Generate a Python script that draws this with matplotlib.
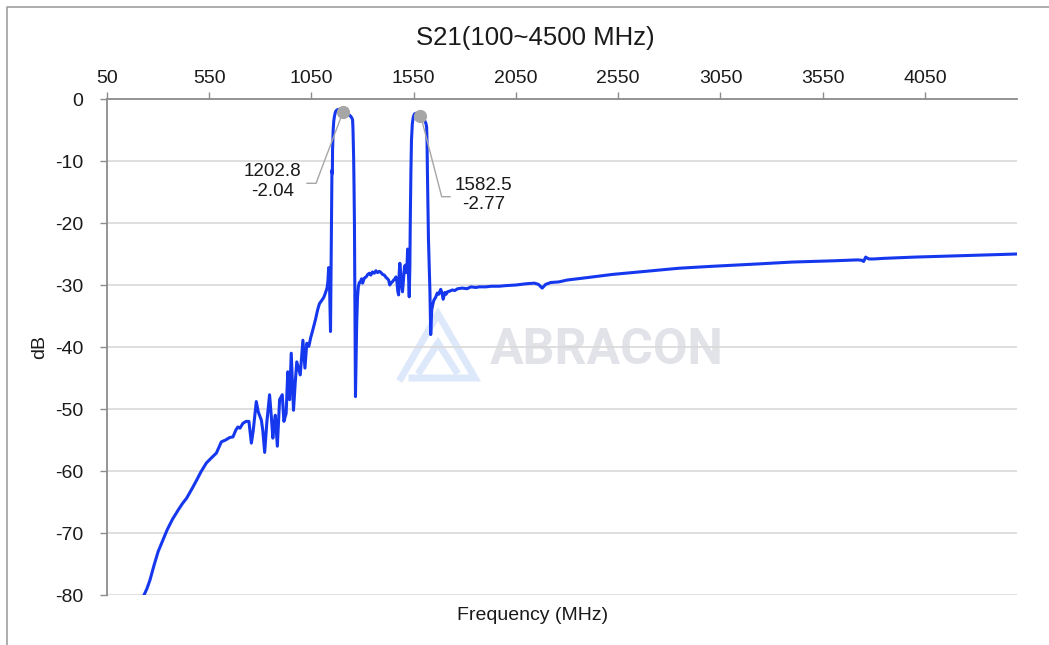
import matplotlib
matplotlib.use("Agg")
import matplotlib.pyplot as plt
from matplotlib.lines import Line2D

plt.rcParams['font.family'] = ['Liberation Sans', 'DejaVu Sans']
plt.rcParams['axes.unicode_minus'] = False

# ---------------- data ----------------
freq_mhz = [
    227, 245, 260, 280, 300, 320, 344, 370, 398, 420, 439, 465, 488, 510, 536, 560,
    585, 600, 609, 630, 650, 666, 680, 690, 700, 715, 730, 744, 750, 756, 765, 780,
    790, 805, 812, 821, 832, 845, 853, 861, 867, 873, 878, 883, 889, 894, 907, 915,
    926, 934, 943, 951, 962, 970, 978, 987, 995, 1008, 1018, 1027, 1037, 1046, 1056,
    1070, 1080, 1089, 1100, 1110, 1118, 1126, 1130, 1134, 1138, 1141, 1143, 1145,
    1146, 1148, 1150, 1152, 1153, 1156, 1159, 1162, 1166, 1170, 1178, 1186, 1195,
    1202.8, 1215, 1227, 1236, 1243, 1248, 1251, 1253, 1256, 1258, 1260, 1263, 1265,
    1268, 1271, 1275, 1279, 1284, 1289, 1295, 1300, 1308, 1317, 1325, 1333, 1340,
    1348, 1357, 1365, 1373, 1382, 1390, 1398, 1406, 1415, 1422, 1427, 1433, 1438,
    1445, 1452, 1458, 1463, 1468, 1472, 1476, 1479, 1482, 1486, 1490, 1495, 1500,
    1505, 1509, 1514, 1517, 1520, 1524, 1528, 1531, 1533, 1536, 1539, 1543, 1548,
    1554, 1561, 1570, 1577, 1582.5, 1590, 1598, 1606, 1610, 1613, 1615, 1617, 1620,
    1622, 1626, 1629, 1633, 1636, 1638, 1644, 1649, 1657, 1665, 1672, 1682, 1688,
    1694, 1702, 1708, 1715, 1725, 1739, 1750, 1765, 1788, 1810, 1830, 1853, 1870,
    1902, 1930, 1967, 2000, 2050, 2100, 2140, 2160, 2178, 2195, 2220, 2260, 2300,
    2400, 2520, 2650, 2845, 3000, 3235, 3400, 3600, 3720, 3740, 3750, 3760, 3775,
    3800, 3850, 3999, 4200, 4350, 4500]
s21_db = [
    -80.3, -79.0, -77.6, -75.2, -73.0, -71.4, -69.5, -67.8, -66.3, -65.2, -64.4, -62.9,
    -61.5, -60.1, -58.7, -57.9, -57.1, -56.0, -55.3, -55.0, -54.6, -54.5, -53.4, -52.9,
    -53.1, -52.3, -52.0, -52.0, -53.8, -55.5, -53.5, -48.8, -50.5, -51.8, -53.5, -57.0,
    -52.0, -47.7, -51.0, -54.7, -52.5, -51.0, -53.5, -56.0, -52.0, -48.5, -47.7, -52.0,
    -50.7, -44.0, -48.5, -41.0, -50.2, -46.0, -42.4, -43.5, -44.5, -38.9, -43.4, -39.4,
    -39.9, -38.5, -37.3, -35.5, -34.0, -33.0, -32.5, -32.0, -31.3, -30.5, -29.5, -27.2,
    -29.7, -34.0, -37.5, -30.0, -27.6, -20.0, -11.5, -12.0, -8.2, -5.0, -3.5, -2.85,
    -2.2, -1.9, -1.7, -1.67, -1.8, -2.04, -2.2, -2.4, -2.6, -2.85, -3.1, -3.4, -5.0,
    -9.3, -14.0, -20.0, -36.0, -48.0, -42.0, -36.2, -32.0, -30.3, -29.6, -29.5, -29.0,
    -29.7, -28.9, -28.7, -28.3, -28.1, -28.4, -27.9, -28.1, -27.7, -28.0, -27.8, -28.0,
    -28.3, -28.4, -28.8, -29.0, -29.2, -30.0, -29.7, -29.5, -29.2, -29.0, -28.7, -29.5,
    -31.0, -31.6, -28.0, -26.5, -28.0, -30.0, -31.1, -29.0, -27.0, -26.8, -28.0, -27.0,
    -24.2, -28.0, -31.9, -27.0, -20.0, -12.0, -6.6, -4.0, -2.85, -2.4, -2.3, -2.35,
    -2.4, -2.77, -2.85, -3.2, -3.65, -4.0, -4.5, -7.0, -12.0, -18.0, -22.7, -27.0,
    -30.8, -38.0, -35.5, -34.0, -33.0, -32.4, -32.0, -31.3, -31.5, -30.7, -31.3, -32.3,
    -31.2, -31.5, -31.1, -31.0, -30.8, -30.9, -30.6, -30.5, -30.6, -30.3, -30.4, -30.3,
    -30.3, -30.2, -30.2, -30.1, -30.0, -29.8, -29.7, -29.9, -30.5, -29.9, -29.6, -29.5,
    -29.2, -28.8, -28.3, -27.9, -27.3, -27.0, -26.6, -26.3, -26.1, -25.95, -26.0, -26.2,
    -25.5, -25.8, -25.8, -25.7, -25.5, -25.3, -25.15, -25.0]

marker_freq = [1202.8, 1582.5]
marker_db = [-2.04, -2.77]
marker_labels = ["1202.8\n-2.04", "1582.5\n-2.77"]

x_ticks = [50, 550, 1050, 1550, 2050, 2550, 3050, 3550, 4050]
y_ticks = [0, -10, -20, -30, -40, -50, -60, -70, -80]

title = "S21(100~4500 MHz)"
x_label = "Frequency (MHz)"
y_label = "dB"

# ---------------- figure ----------------
W, H = 1049, 645
fig = plt.figure(figsize=(W / 100, H / 100), dpi=100)
ax = fig.add_axes([107 / W, 1 - 595 / H, (1017 - 107) / W, (595 - 99) / H])

axis_gray = '#8c8c8c'
grid_gray = '#d9d9d9'
text_col = '#1a1a1a'

ax.set_xlim(50, 4500)
ax.set_ylim(-80, 0)
ax.xaxis.tick_top()
ax.set_xticks(x_ticks)
ax.set_yticks(y_ticks)
ax.tick_params(axis='x', direction='out', length=5, width=1, color=axis_gray,
               pad=3.5, labelsize=14, labelcolor=text_col)
ax.tick_params(axis='y', direction='out', length=5, width=1, color=axis_gray,
               pad=12, labelsize=14, labelcolor=text_col)
ax.yaxis.grid(True, color=grid_gray, linewidth=1.2)
ax.set_axisbelow(True)
for s in ['bottom', 'right']:
    ax.spines[s].set_visible(False)
for s in ['top', 'left']:
    ax.spines[s].set_color(axis_gray)
    ax.spines[s].set_linewidth(1.3)

# watermark (decoration)
ax.text(607 / W, 1 - 350 / H, "ABRACON", transform=fig.transFigure, ha='center',
        va='center', fontsize=36, fontweight='bold', family='Roboto',
        color='#e1e3e9', zorder=0.5)
logo_col = '#dde8fa'
logo = [
    ([401, 438, 475, 412], [378, 314, 378, 378]),
    ([420, 438, 456], [371, 343, 371]),
]
for xs, ys in logo:
    ax.add_line(Line2D([x / W for x in xs], [1 - y / H for y in ys],
                       transform=fig.transFigure, color=logo_col, lw=5,
                       solid_joinstyle='miter', zorder=0.5))

# main trace
ax.plot(freq_mhz, s21_db, color='#1538ee', lw=2.2, zorder=3, clip_on=True)

# markers and data labels
ax.plot(marker_freq, marker_db, 'o', color='#a6a6a6', ms=8.5, zorder=4)
label_offsets = [(-70, -70), (63, -79)]  # pixel offsets of label centres
for f, d, lab, (dx, dy) in zip(marker_freq, marker_db, marker_labels, label_offsets):
    ax.annotate(lab, xy=(f, d), xytext=(dx * 0.72, dy * 0.72), textcoords='offset points',
                ha='center', va='center', fontsize=13.5, color=text_col,
                linespacing=1.2, zorder=5)

# leader lines (from label edge to the marker)
leaders = [
    ([307, 316, 343], [183.3, 183.3, 112]),
    ([450, 441.7, 421], [196.7, 196.7, 117]),
]
for xs, ys in leaders:
    fig.add_artist(Line2D([x / W for x in xs], [1 - y / H for y in ys],
                          color='#a6a6a6', lw=1.0, zorder=5))

# titles / labels
fig.text(535 / W, 1 - 38 / H, title, ha='center', va='center', fontsize=18.5, color=text_col)
fig.text(533 / W, 1 - 615 / H, x_label, ha='center', va='center', fontsize=14, color=text_col)
fig.text(40 / W, 1 - 347 / H, y_label, ha='center', va='center', rotation=90,
         fontsize=14, color=text_col)

# chart frame (partially cropped in reference)
fig.add_artist(Line2D([7 / W, 7 / W, 1.0], [0.0, 1 - 7 / H, 1 - 7 / H],
                      color='#a0a0a0', lw=1.2))

fig.savefig("out.png", dpi=100, facecolor='white')
